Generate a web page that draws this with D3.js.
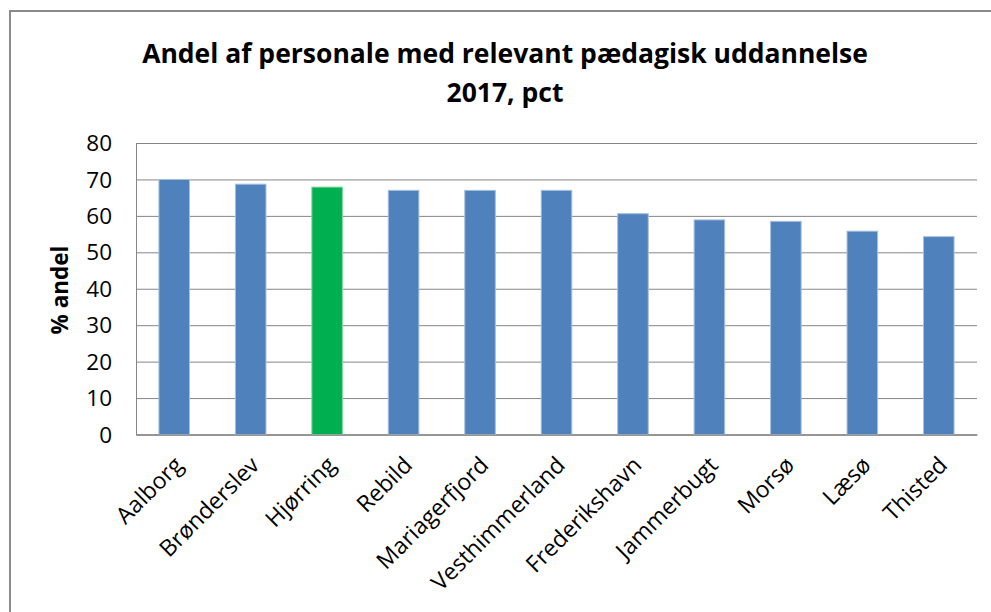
<!DOCTYPE html>
<html>
<head>
<meta charset="utf-8">
<script src="https://cdn.jsdelivr.net/npm/d3@7"></script>
<style>
  html, body { margin: 0; padding: 0; background: #fff; }
  svg { display: block; }
  text { font-family: "Open Sans", "Liberation Sans", sans-serif; fill: #000; }
</style>
</head>
<body>
<svg id="chart" width="991" height="612"></svg>
<script>
const titleLines = ["Andel af personale med relevant pædagisk uddannelse", "2017, pct"];
const yAxisLabel = "% andel";
const categories = ["Aalborg", "Brønderslev", "Hjørring", "Rebild", "Mariagerfjord", "Vesthimmerland", "Frederikshavn", "Jammerbugt", "Morsø", "Læsø", "Thisted"];
const values = [70.0, 68.7, 67.9, 67.0, 67.0, 67.0, 60.6, 58.9, 58.5, 55.8, 54.3];
const highlighted = ["Hjørring"];
const yTicks = [0, 10, 20, 30, 40, 50, 60, 70, 80];

const svg = d3.select("#chart");
const W = 991, H = 612;
const plot = { left: 136, right: 977, top: 143, bottom: 434.5 };

// outer frame
svg.append("rect")
  .attr("x", 10).attr("y", 11)
  .attr("width", W + 20).attr("height", H + 20)
  .attr("fill", "#fff").attr("stroke", "#8a8a8a").attr("stroke-width", 2);

const x = d3.scaleBand().domain(categories).range([plot.left, plot.right]).paddingInner(0.6).paddingOuter(0.3);
const y = d3.scaleLinear().domain([0, 80]).range([plot.bottom, plot.top]);

// gridlines
const yAxis = d3.axisLeft(y).tickValues(yTicks).tickSize(-(plot.right - plot.left)).tickPadding(24);
const gy = svg.append("g").attr("transform", `translate(${plot.left},0)`).call(yAxis);
gy.select(".domain").attr("stroke", "#868686");
gy.selectAll(".tick line").attr("stroke", "#868686").attr("stroke-width", 1);
gy.selectAll(".tick text").attr("font-size", 22.5).attr("fill", "#000").attr("dy", "0.34em");

// bars
svg.append("g").selectAll("rect").data(categories).join("rect")
  .attr("x", d => x(d))
  .attr("width", x.bandwidth())
  .attr("y", (d, i) => y(values[i]))
  .attr("height", (d, i) => y(0) - y(values[i]))
  .attr("fill", d => highlighted.includes(d) ? "#00B050" : "#4F81BD")
  .attr("stroke", d => highlighted.includes(d) ? "#7fd8a8" : "#a7c0de")
  .attr("stroke-width", 1);

// x axis line
const xAxis = d3.axisBottom(x).tickSize(0).tickPadding(0);
const gx = svg.append("g").attr("transform", `translate(0,${plot.bottom})`).call(xAxis);
gx.select(".domain").attr("stroke", "#868686");
gx.selectAll(".tick text")
  .attr("font-size", 23)
  .attr("text-anchor", "end")
  .attr("dy", 0)
  .attr("transform", "translate(10,32) rotate(-45)");

// y axis title
svg.append("text")
  .attr("transform", "translate(68,290) rotate(-90)")
  .attr("text-anchor", "middle")
  .attr("font-size", 22.5).attr("font-weight", "bold")
  .text(yAxisLabel);

// title
svg.append("g").selectAll("text").data(titleLines).join("text")
  .attr("x", 505)
  .attr("y", (d, i) => 63 + i * 39)
  .attr("text-anchor", "middle")
  .attr("font-size", 26.5).attr("font-weight", "bold")
  .text(d => d);
</script>
</body>
</html>
